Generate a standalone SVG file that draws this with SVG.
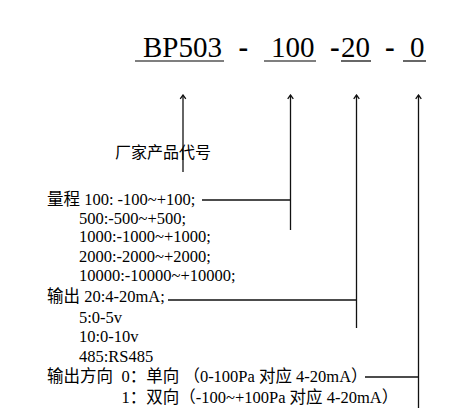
<svg xmlns="http://www.w3.org/2000/svg" width="472" height="420" viewBox="0 0 472 420">
<style>
text{font-family:"Liberation Serif","Noto Sans CJK SC",serif;fill:#000}
.code{font-size:29px}
.dash{font-size:29px;font-weight:bold}
.t{font-size:16.5px}
.cjk{font-family:"Noto Sans CJK SC","Liberation Sans",sans-serif;font-size:16px}
.ln{stroke:#111;stroke-width:1.3;fill:none}
.ul{stroke:#000;stroke-width:1.2}
</style>
<defs>
<marker id="ah" viewBox="0 0 8 8" refX="7" refY="4" markerWidth="8" markerHeight="8" markerUnits="userSpaceOnUse" orient="auto">
<path d="M3.2,1.2 L7,4 L3.2,6.8" fill="none" stroke="#111" stroke-width="1.3"/>
</marker>
</defs>
<rect width="472" height="420" fill="#fff"/>
<g id="code">
<text class="code" x="143" y="57">BP503</text>
<text class="dash" x="238.5" y="57">-</text>
<text class="code" x="271" y="57">100</text>
<text class="dash" x="330" y="57">-</text>
<text class="code" x="341" y="57">20</text>
<text class="dash" x="385" y="57">-</text>
<text class="code" x="410" y="57">0</text>
<line class="ul" x1="135" y1="61" x2="224" y2="61"/>
<line class="ul" x1="264" y1="61" x2="316" y2="61"/>
<line class="ul" x1="341" y1="61" x2="371" y2="61"/>
<line class="ul" x1="403" y1="61" x2="426" y2="61"/>
</g>
<g id="connectors">
<line class="ln" x1="183" y1="172" x2="183" y2="95" marker-end="url(#ah)"/>
<line class="ln" x1="290.5" y1="230" x2="290.5" y2="95" marker-end="url(#ah)"/>
<line class="ln" x1="356.5" y1="328" x2="356.5" y2="95" marker-end="url(#ah)"/>
<line class="ln" x1="418.5" y1="408" x2="418.5" y2="95" marker-end="url(#ah)"/>
<line class="ln" x1="202" y1="200" x2="290.5" y2="200"/>
<line class="ln" x1="168" y1="300" x2="356.5" y2="300"/>
<line class="ln" x1="365" y1="377" x2="418.5" y2="377"/>
</g>
<g id="maker">
<text class="cjk" x="115" y="158">厂家产品代号</text>
</g>
<g id="range">
<text class="t" x="47" y="205">量程 100: -100~+100;</text>
<text class="t" x="79" y="223.5">500:-500~+500;</text>
<text class="t" x="79" y="242">1000:-1000~+1000;</text>
<text class="t" x="79" y="261.5">2000:-2000~+2000;</text>
<text class="t" x="79" y="281">10000:-10000~+10000;</text>
</g>
<g id="output">
<text class="t" x="47" y="301.5">输出 20:4-20mA;</text>
<text class="t" x="79" y="322.5">5:0-5v</text>
<text class="t" x="79" y="341.5">10:0-10v</text>
<text class="t" x="79" y="361.5">485:RS485</text>
</g>
<g id="direction">
<text class="t" x="47" y="381.5">输出方向</text>
<text class="t" x="121.5" y="381.5">0：单向 （0-100Pa 对应 4-20mA）</text>
<text class="t" x="121.5" y="403">1：双向（-100~+100Pa 对应 4-20mA）</text>
</g>
</svg>
